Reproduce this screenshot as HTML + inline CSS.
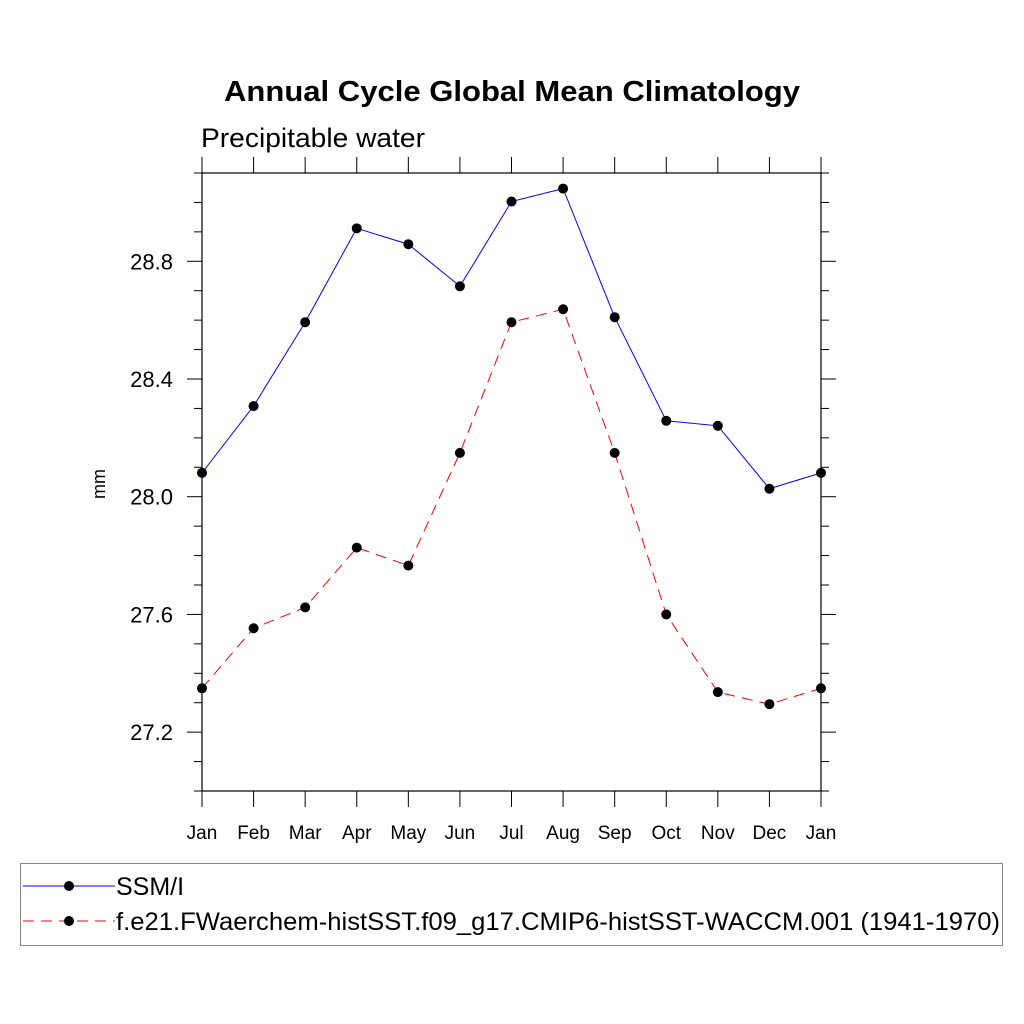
<!DOCTYPE html>
<html><head><meta charset="utf-8"><style>
html,body{margin:0;padding:0;background:#fff;}
svg{display:block;font-family:"Liberation Sans",sans-serif;}
</style></head><body>
<svg id="chart" width="1024" height="1024" viewBox="0 0 1024 1024" xmlns="http://www.w3.org/2000/svg">
<rect width="1024" height="1024" fill="#fff"/>
<text x="512" y="101" text-anchor="middle" font-size="29" font-weight="bold" textLength="576" lengthAdjust="spacingAndGlyphs">Annual Cycle Global Mean Climatology</text>
<text x="201" y="147" font-size="27" textLength="224" lengthAdjust="spacingAndGlyphs">Precipitable water</text>
<text transform="translate(105,484) rotate(-90)" text-anchor="middle" font-size="18">mm</text>
<g id="axes"></g>
<g id="series"></g>
<rect x="20.5" y="863.5" width="982" height="82" fill="none" stroke="#888" stroke-width="1"/>
<g>
<line x1="23" y1="886" x2="115" y2="886" stroke="#00f" stroke-width="1"/>
<circle cx="69" cy="886" r="5" fill="#000"/>
<text x="116" y="895" font-size="25">SSM/I</text>
</g>
<g>
<line x1="23" y1="921" x2="115" y2="921" stroke="#f00" stroke-width="1" stroke-dasharray="11,7"/>
<circle cx="69" cy="921" r="5" fill="#000"/>
<text x="116" y="930" font-size="25" textLength="884" lengthAdjust="spacingAndGlyphs">f.e21.FWaerchem-histSST.f09_g17.CMIP6-histSST-WACCM.001 (1941-1970)</text>
</g>
</svg>
<script>
const months = ["Jan","Feb","Mar","Apr","May","Jun","Jul","Aug","Sep","Oct","Nov","Dec","Jan"];
const ssmi = [28.081,28.308,28.593,28.912,28.858,28.715,29.003,29.047,28.61,28.258,28.241,28.027,28.081];
const model = [27.349,27.553,27.624,27.827,27.766,28.149,28.593,28.637,28.149,27.6,27.336,27.295,27.349];
const yTicks = [27.2,27.6,28.0,28.4,28.8];
const yMinor = [27.0,27.1,27.2,27.3,27.4,27.5,27.6,27.7,27.8,27.9,28.0,28.1,28.2,28.3,28.4,28.5,28.6,28.7,28.8,28.9,29.0,29.1];
const yMin = 27.0, yMax = 29.1;
const L=202,R=821,T=173,B=791;
const NS="http://www.w3.org/2000/svg";
function xs(i){return L+(R-L)*i/(months.length-1);}
function ys(v){return B-(v-yMin)/(yMax-yMin)*(B-T);}
function mk(tag,attrs,parent){const e=document.createElementNS(NS,tag);for(const k in attrs)e.setAttribute(k,attrs[k]);parent.appendChild(e);return e;}
const ax=document.getElementById('axes');
const frame=mk('rect',{x:L,y:T,width:R-L,height:B-T,fill:'none',stroke:'#000','stroke-width':1.2},ax);


yMinor.forEach(v=>{const y=ys(v);
 const major=yTicks.some(t=>Math.abs(t-v)<1e-6);const len=major?15:8;
 const a=mk('line',{x1:L-len,y1:y,x2:L,y2:y,stroke:'#000','stroke-width':1},ax);
 
 
 const b=mk('line',{x1:R,y1:y,x2:R+len,y2:y,stroke:'#000','stroke-width':1},ax);
 
 
});
yTicks.forEach(v=>{const t=mk('text',{x:L-29,y:ys(v)+8,'text-anchor':'end','font-size':22},ax);t.textContent=v.toFixed(1);
 
 });
months.forEach((m,i)=>{const x=xs(i);
 const a=mk('line',{x1:x,y1:B,x2:x,y2:B+16,stroke:'#000','stroke-width':1},ax);
 
 
 const b=mk('line',{x1:x,y1:T-16,x2:x,y2:T,stroke:'#000','stroke-width':1},ax);
 
 
 const t=mk('text',{x:x,y:839,'text-anchor':'middle','font-size':19},ax);t.textContent=m;
 
 
});
const sg=document.getElementById('series');
function draw(vals,color,dash,name){
 const pts=vals.map((v,i)=>xs(i)+','+ys(v)).join(' ');
 const pl=mk('polyline',{points:pts,fill:'none',stroke:color,'stroke-width':1,'stroke-dasharray':dash},sg);
 
 
 vals.forEach((v,i)=>{const c=mk('circle',{cx:xs(i),cy:ys(v),r:5,fill:'#000'},sg);
  
  });
}
draw(ssmi,'#00f','none','ssmi');
draw(model,'#f00','11,7','model');
</script>
</body></html>
